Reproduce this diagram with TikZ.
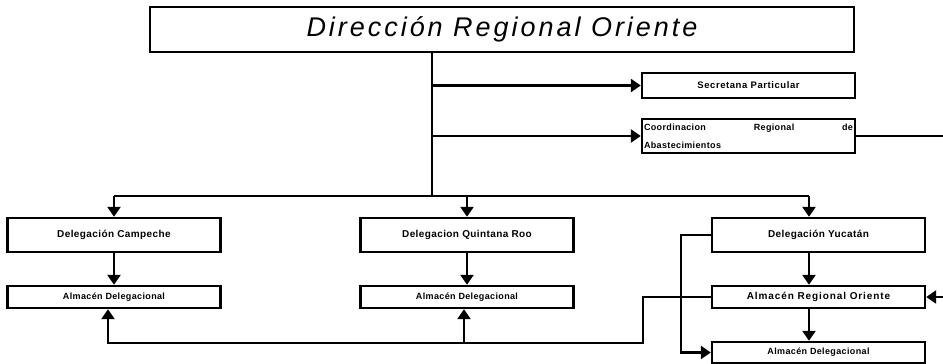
\documentclass[tikz,border=0pt]{standalone}
\usepackage{fontspec}
\setmainfont{Liberation Sans}
\usetikzlibrary{arrows.meta}

\tikzset{
  caja/.style={draw, line width=2.4pt, fill=white, minimum width=213, minimum height=34, inner sep=1pt,
    font=\bfseries\fontsize{10}{11}\selectfont\addfontfeatures{LetterSpace=4}},
  cajab/.style={caja, minimum height=22,
    font=\bfseries\fontsize{9}{10}\selectfont\addfontfeatures{LetterSpace=4}},
  flecha/.style={line width=2.6pt, -{Triangle[length=10pt,width=13pt]}},
  linea/.style={line width=2.6pt}
}

\begin{document}
\begin{tikzpicture}[x=1pt,y=-1pt]
\useasboundingbox (0,0) rectangle (943,364);

\begin{scope}
\coordinate (bar) at (432,196);
\coordinate (barI) at (114,196);
\coordinate (barD) at (809,196);
\coordinate (fin) at (943,0);
\coordinate (baja) at (643,343);

\node[draw, line width=2.6pt, minimum width=704, minimum height=45, inner sep=0pt,
  font=\itshape\fontsize{27}{29}\selectfont\addfontfeatures{LetterSpace=11}] (dro) at (502,29.5) {Dirección Regional Oriente};

\node[caja, minimum height=25, font=\bfseries\fontsize{9.5}{10}\selectfont\addfontfeatures{LetterSpace=6}] (secp) at (748.5,85.5) {Secretana Particular};
\node[caja, text width=209, align=left, font=\bfseries\fontsize{9}{18}\selectfont\addfontfeatures{LetterSpace=4}] (cra) at (748.5,136)
  {Coordinacion\hfill Regional\hfill de\\Abastecimientos};

\node[caja] (camp) at (114,235) {Delegación Campeche};
\node[cajab] (almA) at (114,297) {Almacén Delegacional};

\node[caja] (qroo) at (467,235) {Delegacion Quintana Roo};
\node[cajab] (almB) at (467,297) {Almacén Delegacional};

\node[caja] (yuc) at (818.5,235) {Delegación Yucatán};
\node[cajab, font=\bfseries\fontsize{10}{11}\selectfont\addfontfeatures{LetterSpace=9}] (aro) at (818.5,297) {Almacén Regional Oriente};
\node[cajab, minimum height=21] (almC) at (818.5,352.5) {Almacén Delegacional};
\end{scope}

\draw[linea] (dro.south -| bar) -- (bar);
\draw[linea] (barI) -- (barD);
\draw[flecha] (secp.west -| bar) -- (secp.west);
\draw[flecha] (cra.west -| bar) -- (cra.west);
\draw[linea] (cra.east) -- (cra.east -| fin);

\draw[flecha] (barI) -- (camp.north);
\draw[flecha] (qroo.north |- bar) -- (qroo.north);
\draw[flecha] (barD) -- (yuc.north -| barD);

\draw[flecha] (camp.south) -- (almA.north);
\draw[flecha] (qroo.south) -- (almB.north);
\draw[flecha] (yuc.south -| barD) -- (aro.north -| barD);
\draw[flecha] (aro.south -| barD) -- (almC.north -| barD);
\draw[flecha] (aro.east -| fin) -- (aro.east);

\draw[flecha] (yuc.west) -- ++(-30,0) |- (almC.west);
\draw[flecha] (aro.west) -| (baja) -| ([xshift=-6]almA.south);
\draw[flecha] ([xshift=-3]almB.south |- baja) -- ([xshift=-3]almB.south);

\end{tikzpicture}
\end{document}
